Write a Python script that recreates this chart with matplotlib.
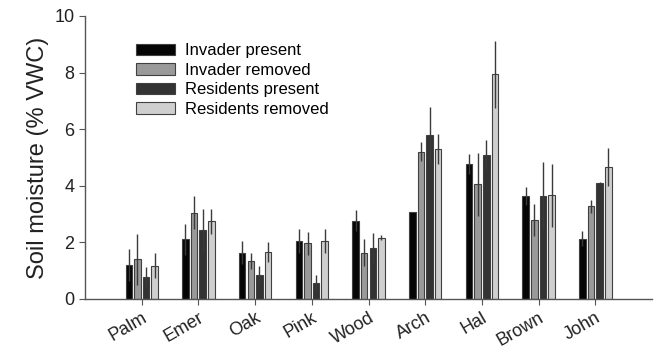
import numpy as np
import matplotlib
matplotlib.use("Agg")
import matplotlib.pyplot as plt

plt.rcParams['font.family'] = ['Liberation Sans', 'DejaVu Sans']

sites = ["Palm", "Emer", "Oak", "Pink", "Wood", "Arch", "Hal", "Brown", "John"]
treatments = ["Invader present", "Invader removed", "Residents present", "Residents removed"]

invader_present = [1.19, 2.11, 1.64, 2.06, 2.77, 3.07, 4.77, 3.64, 2.13]
invader_present_se = [0.56, 0.54, 0.42, 0.42, 0.37, 0.0, 0.35, 0.33, 0.26]
invader_removed = [1.40, 3.05, 1.35, 1.97, 1.64, 5.21, 4.06, 2.79, 3.27]
invader_removed_se = [0.90, 0.59, 0.29, 0.40, 0.47, 0.35, 1.11, 0.57, 0.23]
residents_present = [0.79, 2.44, 0.84, 0.58, 1.79, 5.80, 5.08, 3.64, 4.11]
residents_present_se = [0.33, 0.75, 0.33, 0.26, 0.55, 1.00, 0.53, 1.20, 0.04]
residents_removed = [1.17, 2.74, 1.66, 2.06, 2.16, 5.29, 7.94, 3.66, 4.67]
residents_removed_se = [0.44, 0.43, 0.35, 0.42, 0.09, 0.53, 1.19, 1.11, 0.67]

means = [invader_present, invader_removed, residents_present, residents_removed]
errors = [invader_present_se, invader_removed_se, residents_present_se, residents_removed_se]
colors = ["#050505", "#9a9a9a", "#333333", "#cfcfcf"]

fig = plt.figure(figsize=(6.54, 3.52), dpi=100)
ax = fig.add_axes([0.130, 0.1506, 0.867, 0.804])

x = np.arange(len(sites))
pitch = 0.152
width = 0.115
for i, (m, e, c) in enumerate(zip(means, errors, colors)):
    pos = x + (i - 1.5) * pitch
    ax.bar(pos, m, width, color=c, edgecolor="#404040", linewidth=0.8,
           label=treatments[i], zorder=2)
    ax.errorbar(pos, m, yerr=e, fmt="none", ecolor="#3a3a3a",
                elinewidth=1.0, capsize=0, zorder=3)

ax.set_xlim(-1, 9)
ax.set_ylim(0, 10)
ax.set_yticks([0, 2, 4, 6, 8, 10])
ax.set_xticks(x)
ax.set_xticklabels(sites, rotation=30, ha="right", rotation_mode="anchor")
ax.set_ylabel("Soil moisture (% VWC)", fontsize=17, color="#222222", labelpad=4)

for side in ["top", "right"]:
    ax.spines[side].set_visible(False)
for side in ["left", "bottom"]:
    ax.spines[side].set_color("#555555")
    ax.spines[side].set_linewidth(1.0)
ax.tick_params(axis="both", direction="out", length=4, color="#555555",
               labelsize=13, labelcolor="#222222")

ax.legend(loc="upper left", bbox_to_anchor=(0.078, 0.927), frameon=False,
          fontsize=12, handlelength=2.35, handleheight=0.7,
          handletextpad=0.6, labelspacing=0.27, borderaxespad=0)

fig.savefig("out.png", dpi=100)
